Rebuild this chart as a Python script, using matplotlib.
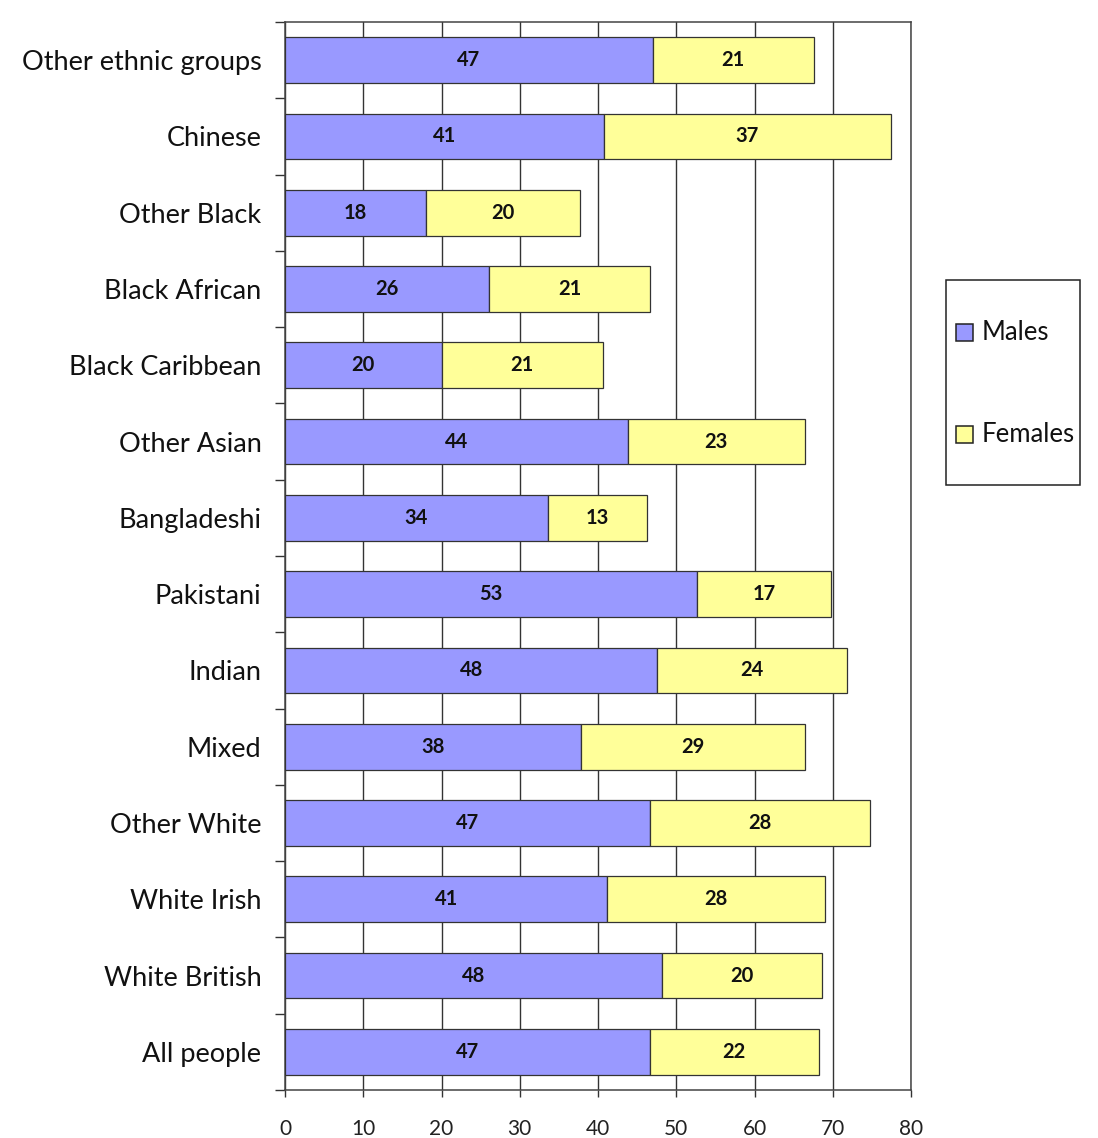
import matplotlib
matplotlib.use("Agg")
import matplotlib.pyplot as plt
from matplotlib.patches import Rectangle
import numpy as np

# ---- data (bottom to top) ----
categories = ["All people", "White British", "White Irish", "Other White", "Mixed",
              "Indian", "Pakistani", "Bangladeshi", "Other Asian", "Black Caribbean",
              "Black African", "Other Black", "Chinese", "Other ethnic groups"]
males = [46.6, 48.2, 41.2, 46.7, 37.8, 47.6, 52.6, 33.6, 43.8, 20.0, 26.1, 18.0, 40.8, 47.0]
females = [21.6, 20.4, 27.8, 28.0, 28.6, 24.2, 17.2, 12.6, 22.6, 20.6, 20.6, 19.7, 36.6, 20.6]
series_names = ["Males", "Females"]
x_ticks = [0, 10, 20, 30, 40, 50, 60, 70, 80]

MALE_C = "#9999ff"
FEMALE_C = "#ffff99"
EDGE = "#333333"
TXT = "#111111"
FONT = "Lato"

W, H = 1098, 1138
fig = plt.figure(figsize=(W / 100, H / 100), dpi=100)
fig.patch.set_facecolor("white")
ax = fig.add_axes([285 / W, 1 - 1090 / H, (911 - 285) / W, (1090 - 22) / H])

y = np.arange(len(categories))
m = np.array(males)
f = np.array(females)
bh = 0.6
ax.barh(y, m, height=bh, color=MALE_C, edgecolor=EDGE, linewidth=0.9, zorder=3)
ax.barh(y, f, left=m, height=bh, color=FEMALE_C, edgecolor=EDGE, linewidth=0.9, zorder=3)

for yi, mv, fv in zip(y, m, f):
    ax.text(mv / 2, yi, f"{mv:.0f}", ha="center", va="center", fontsize=14.5,
            fontweight="bold", family=FONT, color=TXT, zorder=4)
    ax.text(mv + fv / 2, yi, f"{fv:.0f}", ha="center", va="center", fontsize=14.5,
            fontweight="bold", family=FONT, color=TXT, zorder=4)

ax.set_xlim(0, 80)
ax.set_ylim(-0.5, len(categories) - 0.5)
ax.set_xticks(x_ticks)
ax.set_xticklabels([str(t) for t in x_ticks], family=FONT, fontsize=15, color="#222222")
ax.set_yticks(y)
ax.set_yticklabels(categories, family=FONT, fontsize=19.5, color=TXT)
ax.set_yticks(np.arange(-0.5, len(categories), 1.0), minor=True)
ax.tick_params(axis="y", which="major", length=0, pad=17)
ax.tick_params(axis="y", which="minor", length=7, width=1.0, color=EDGE, direction="out")
ax.tick_params(axis="x", which="major", length=5, width=1.0, color=EDGE, direction="out", pad=16)

ax.grid(axis="x", color=EDGE, linewidth=1.0, zorder=0)
ax.set_axisbelow(True)
for s in ax.spines.values():
    s.set_color("#444444")
    s.set_linewidth(1.1)

# ---- legend box (drawn in figure pixels) ----
def fx(px):
    return px / W

def fy(py):
    return 1 - py / H

fig.patches.append(Rectangle((fx(946), fy(485)), fx(1080) - fx(946), fy(280) - fy(485),
                             transform=fig.transFigure, facecolor="white",
                             edgecolor="#222222", linewidth=1.1))
for name, col, cy in zip(series_names, [MALE_C, FEMALE_C], [332, 434]):
    fig.patches.append(Rectangle((fx(956), fy(cy + 8.5)), fx(17), fy(0) - fy(17),
                                 transform=fig.transFigure, facecolor=col,
                                 edgecolor="#222222", linewidth=1.1))
    fig.text(fx(982), fy(cy), name, ha="left", va="center", family=FONT,
             fontsize=18.5, color=TXT)

fig.savefig("out.png", dpi=100, facecolor="white")
